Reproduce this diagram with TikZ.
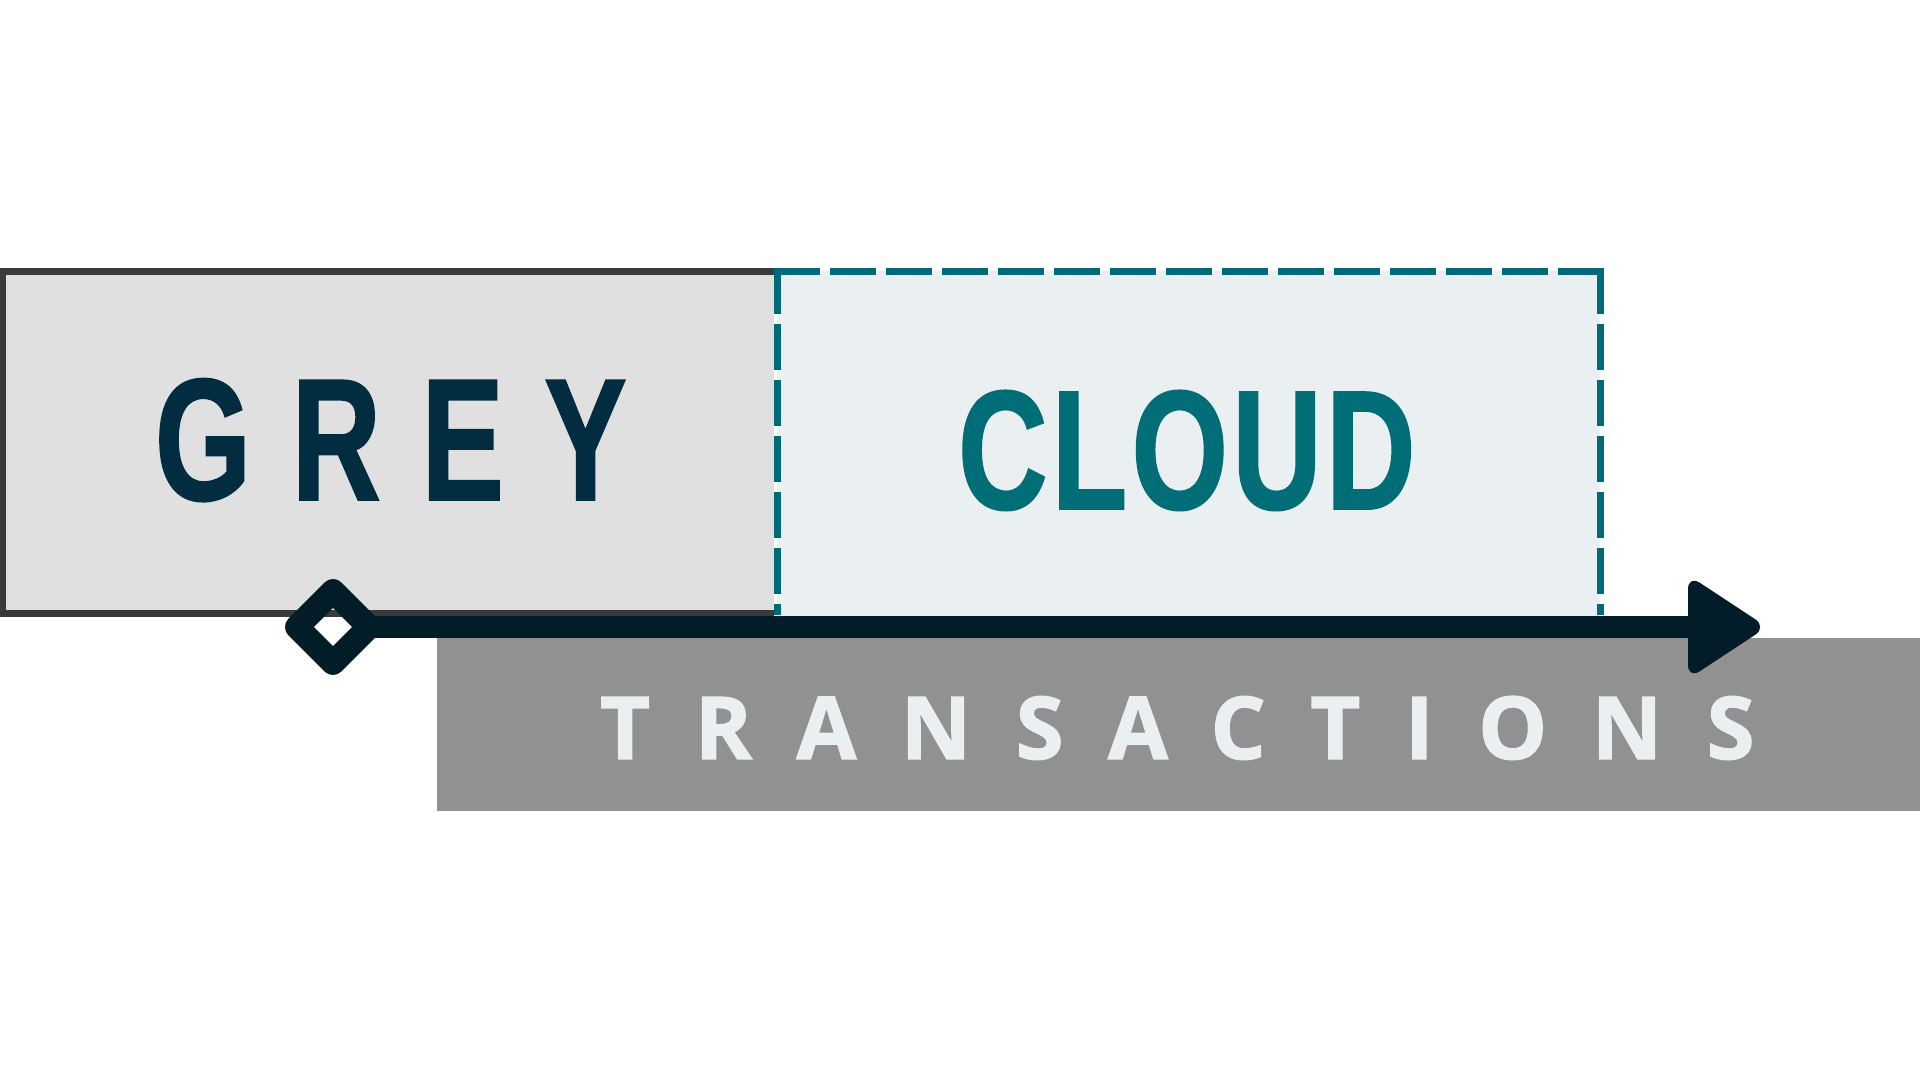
\documentclass[tikz,border=0pt]{standalone}
\usepackage{fontspec}
\usetikzlibrary{shapes.geometric}
\newfontfamily\greyfont{Liberation Sans}[FakeStretch=0.71,LetterSpace=23.3,FakeBold=1]
\newfontfamily\cloudfont{Liberation Sans}[FakeStretch=0.73,LetterSpace=2.4,FakeBold=1]
\newfontfamily\transfont{Open Sans}[LetterSpace=51.2,FakeBold=1.5]
\definecolor{greyfill}{HTML}{E0E0E0}
\definecolor{greyborder}{HTML}{3A3A3A}
\definecolor{cloudfill}{HTML}{EAEFF1}
\definecolor{tealline}{HTML}{00697A}
\definecolor{navytext}{HTML}{022D40}
\definecolor{arrowc}{HTML}{021C28}
\definecolor{transfill}{HTML}{919191}
\definecolor{translight}{HTML}{EAEFF1}
\definecolor{cloudtext}{HTML}{006D77}
\tikzset{
  boxfill/.style={draw=none, inner sep=0, outer sep=0, anchor=north west},
  tealdash/.style={draw=tealline, line width=3.5pt, dash pattern=on 23pt off 5pt},
  wordlabel/.style={inner sep=0, outer sep=0, anchor=base west},
}
\begin{document}
\begin{tikzpicture}[x=0.5pt, y=-0.5pt]
\useasboundingbox[fill=white] (0,0) rectangle (1920,1080);
% transactions box
\node[boxfill, fill=transfill, minimum width=741.5pt, minimum height=86.5pt] (trans) at (437,638) {};
% grey box
\node[boxfill, fill=greyfill, minimum width=387pt, minimum height=172pt] (grey) at (0,270) {};
\draw[greyborder, line width=3.2pt] (774,271.5) -- (3,271.5) -- (3,613.5) -- (774,613.5);
% cloud box
\node[boxfill, fill=cloudfill, minimum width=411.5pt, minimum height=172.5pt] (cloud) at (777,271) {};
\draw[tealdash] (777.5,268) -- (777.5,615);
\draw[tealdash] (774,271.5) -- (1604,271.5);
\draw[tealdash] (1600,268) -- (1600,615);
% arrow
\node[draw=arrowc, line width=12pt, shape=diamond, aspect=1, inner sep=0, outer sep=0,
      minimum width=36pt, minimum height=36pt, line join=round] (dia) at (333,627) {};
\coordinate (arrowend) at (1700,627);
\draw[arrowc, line width=11pt] (dia.east) -- (arrowend);
\fill[arrowc, rounded corners=7pt] (1688,575) -- (1767,627) -- (1688,679) -- cycle;
% texts
\node[wordlabel, text=navytext, font=\greyfont\bfseries\fontsize{87pt}{93pt}\selectfont] (greytxt) at (155,500) {GREY};
\node[wordlabel, text=cloudtext, font=\cloudfont\bfseries\fontsize{85pt}{91pt}\selectfont] (cloudtxt) at (958,509) {CLOUD};
\node[wordlabel, text=translight, font=\transfont\bfseries\fontsize{43.4pt}{48pt}\selectfont] (transtxt) at (600,759) {TRANSACTIONS};
\end{tikzpicture}
\end{document}
